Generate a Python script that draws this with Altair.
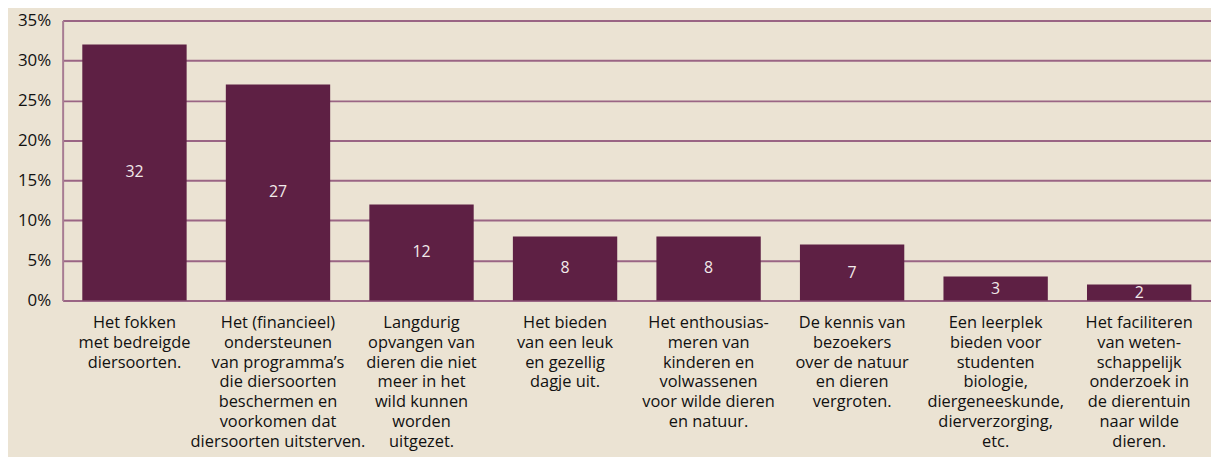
import altair as alt
import pandas as pd

labels = [
    "Het fokken|met bedreigde|diersoorten.",
    "Het (financieel)|ondersteunen|van programma’s|die diersoorten|beschermen en|voorkomen dat|diersoorten uitsterven.",
    "Langdurig|opvangen van|dieren die niet|meer in het|wild kunnen|worden|uitgezet.",
    "Het bieden|van een leuk|en gezellig|dagje uit.",
    "Het enthousias-|meren van|kinderen en|volwassenen|voor wilde dieren|en natuur.",
    "De kennis van|bezoekers|over de natuur|en dieren|vergroten.",
    "Een leerplek|bieden voor|studenten|biologie,|diergeneeskunde,|dierverzorging,|etc.",
    "Het faciliteren|van weten-|schappelijk|onderzoek in|de dierentuin|naar wilde|dieren.",
]
values = [32, 27, 12, 8, 8, 7, 3, 2]
y_ticks = [0, 5, 10, 15, 20, 25, 30, 35]

df = pd.DataFrame({"label": labels, "value": values})

FONT = "Open Sans"
BAR = "#5e2044"
GRID = "#9a6584"

x = alt.X(
    "label:N",
    sort=None,
    scale=alt.Scale(paddingInner=0.273, paddingOuter=0.137),
    axis=alt.Axis(
        title=None,
        labelAngle=0,
        labelExpr="split(datum.label, '|')",
        labelFont=FONT,
        labelFontSize=16.5,
        labelColor="#111111",
        labelLineHeight=20,
        labelPadding=14,
        labelBaseline="top",
        ticks=False,
        domain=False,
        labelLimit=400,
    ),
)

y = alt.Y(
    "value:Q",
    scale=alt.Scale(domain=[0, 35], nice=False),
    axis=alt.Axis(
        title=None,
        values=y_ticks,
        labelExpr="datum.value + '%'",
        labelFont=FONT,
        labelFontSize=17,
        labelColor="#111111",
        labelPadding=12,
        ticks=False,
        domain=True,
        domainColor="#a77c93",
        domainWidth=2,
        grid=True,
        gridColor=GRID,
        gridWidth=2,
    ),
)

bars = alt.Chart(df).mark_bar(color=BAR).encode(x=x, y=y)

text = (
    alt.Chart(df)
    .transform_calculate(mid="datum.value / 2")
    .mark_text(color="#f2eaea", font=FONT, fontSize=16, baseline="middle")
    .encode(x=alt.X("label:N", sort=None), y=alt.Y("mid:Q"), text="value:Q")
)

chart = (
    alt.layer(bars, text)
    .properties(
        width=1156,
        height=282,
        padding={"left": 55, "top": 11, "right": 0, "bottom": 156},
        autosize="none",
        background="#ebe3d3",
    )
    .configure_view(stroke=None)
)

chart.save("out.html", embed_options={"renderer": "svg", "actions": False})
